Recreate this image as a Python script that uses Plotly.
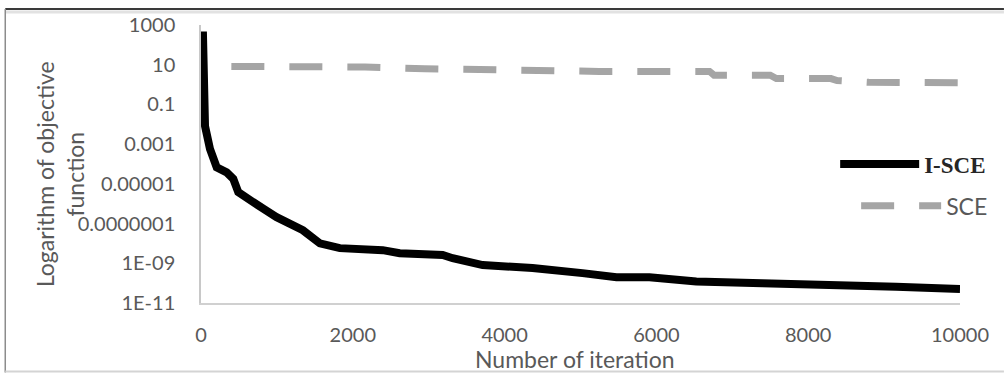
import plotly.graph_objects as go

# I-SCE series (iteration, objective value)
iterations_isce = [25, 30, 53, 118, 207, 338, 425, 491, 645, 820,
                   996, 1171, 1342, 1566, 1829, 2395, 2618, 3184, 3316, 3711,
                   4368, 5026, 5474, 5908, 6526, 7395, 8276, 9158, 10000]
objective_isce = [4.7e2, 1.8e-1, 8.1e-3, 5.8e-4, 6.8e-5, 3.8e-5, 1.8e-5, 3.8e-6, 1.4e-6, 5.6e-7,
                  2.1e-7, 1.0e-7, 4.6e-8, 1.0e-8, 5.8e-9, 4.6e-9, 3.2e-9, 2.6e-9, 1.8e-9, 8.1e-10,
                  5.8e-10, 3.2e-10, 2.0e-10, 2.0e-10, 1.2e-10, 1.0e-10, 7.2e-11, 6.5e-11, 5.1e-11]

# SCE series
iterations_sce = [400, 1700, 2160, 2950, 3670, 4460, 5250, 6700, 6760, 7500,
                  7580, 8300, 8380, 8800, 10000]
objective_sce = [8.2, 8.2, 7.6, 6.3, 5.4, 5.0, 4.6, 4.6, 2.95, 2.95,
                 2.0, 2.0, 1.6, 1.3, 1.23]

# axis ticks
x_ticks = [0, 2000, 4000, 6000, 8000, 10000]
x_tick_labels = ["0", "2000", "4000", "6000", "8000", "10000"]
y_ticks = [1e3, 1e1, 1e-1, 1e-3, 1e-5, 1e-7, 1e-9, 1e-11]
y_tick_labels = ["1000", "10", "0.1", "0.001", "0.00001", "0.0000001", "1E-09", "1E-11"]

GRAY_TEXT = "#595959"
W, H = 1005, 380
L, R, T, B = 201, 44, 23, 77
PW, PH = W - L - R, H - T - B


def px(xp):
    return (xp - L) / PW


def py(yp):
    return (H - B - yp) / PH


fig = go.Figure()
fig.add_trace(go.Scatter(
    x=iterations_isce, y=objective_isce, mode="lines", name="I-SCE", showlegend=True,
    line=dict(color="#000000", width=8), legend="legend"))
fig.add_trace(go.Scatter(
    x=iterations_sce, y=objective_sce, mode="lines", name="SCE", showlegend=True,
    line=dict(color="#a5a5a5", width=7, dash="33px,25px"), legend="legend2"))

tick_font = dict(family="Lato", size=20, color=GRAY_TEXT)
title_font = dict(family="Lato", size=23, color=GRAY_TEXT)

fig.update_layout(
    width=W, height=H, autosize=False, showlegend=True,
    margin=dict(l=L, r=R, t=T, b=B, pad=0),
    paper_bgcolor="white", plot_bgcolor="white",
    xaxis=dict(range=[0, 10000], tickvals=x_ticks, ticktext=x_tick_labels,
               showgrid=False, zeroline=False,
               showline=True, linecolor="#d0d0d0", linewidth=1.5,
               ticks="", tickfont=tick_font, ticklabelstandoff=13),
    yaxis=dict(type="log", range=[-11, 3], tickvals=y_ticks, ticktext=y_tick_labels,
               showgrid=False, zeroline=False,
               showline=True, linecolor="#c8c8c8", linewidth=1.5,
               ticks="", tickfont=tick_font, ticklabelstandoff=20),
    legend=dict(x=px(836), y=py(163), xanchor="left", yanchor="middle",
                itemwidth=79, bgcolor="rgba(0,0,0,0)",
                font=dict(family="Liberation Serif", size=23, color="#262626", weight="bold")),
    legend2=dict(x=px(857), y=py(205), xanchor="left", yanchor="middle",
                 itemwidth=80, bgcolor="rgba(0,0,0,0)",
                 font=dict(family="Lato", size=23, color=GRAY_TEXT)),
    annotations=[
        dict(text="Logarithm of objective<br>function", textangle=-90,
             xref="paper", yref="paper", x=px(60), y=py(173),
             xanchor="center", yanchor="middle", showarrow=False, font=title_font),
        dict(text="Number of iteration",
             xref="paper", yref="paper", x=px(575), y=py(359),
             xanchor="center", yanchor="middle", showarrow=False, font=title_font),
    ],
    shapes=[
        dict(type="line", xref="paper", yref="paper", x0=px(5), x1=px(1005), y0=py(10), y1=py(10),
             line=dict(color="#e2e2e2", width=3)),
        dict(type="line", xref="paper", yref="paper", x0=px(5), x1=px(1005), y0=py(7), y1=py(7),
             line=dict(color="#3a3a3a", width=2)),
        dict(type="line", xref="paper", yref="paper", x0=px(5), x1=px(5), y0=py(7), y1=py(373),
             line=dict(color="#8c8c8c", width=1.5)),
        dict(type="line", xref="paper", yref="paper", x0=px(5), x1=px(1005), y0=py(372), y1=py(372),
             line=dict(color="#d4d4d4", width=2)),
    ],
)

fig.write_html("out.html", config={"displayModeBar": False},
               post_script="document.body.style.margin='0px';")
